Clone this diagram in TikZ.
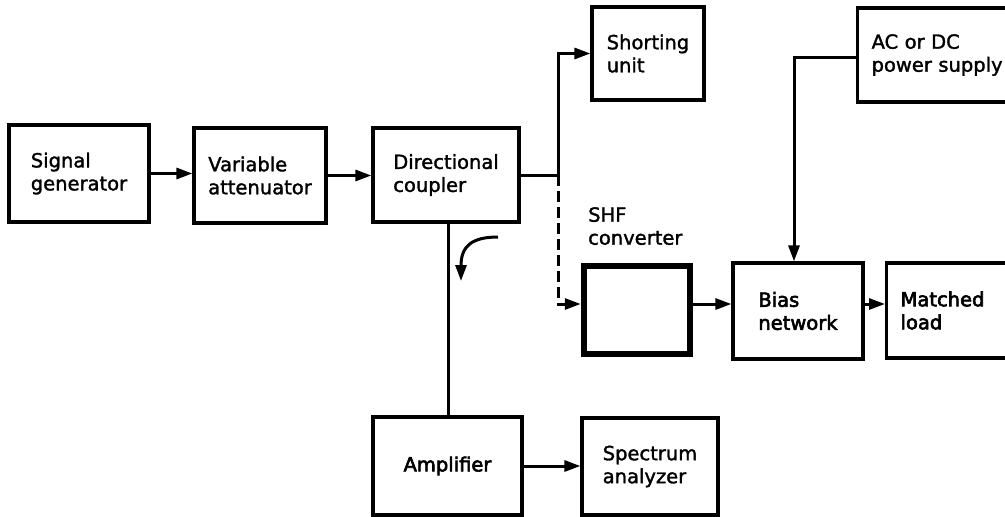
\documentclass[tikz,border=0pt]{standalone}
\usepackage{fontspec}
\setmainfont{DejaVu Sans}[FakeBold=1.6]
\newfontfamily\heavyface{DejaVu Sans}[FakeBold=3]
\usetikzlibrary{arrows.meta,calc}
\begin{document}
\begin{tikzpicture}[x=1pt,y=-1pt,
  every node/.style={font=\fontsize{19.5}{23}\selectfont},
  heavy/.style={font=\fontsize{19.5}{23}\selectfont\heavyface},
  blk/.style={draw,line width=3.2pt,align=left,inner sep=0pt,
    minimum width=#1},
  blk/.default=100,
  arr/.style={line width=3pt,-{Triangle[length=16pt,width=11pt]}},
  wire/.style={line width=3pt}]
\useasboundingbox (0,0) rectangle (1005,517);

% blocks
\node[blk=140,minimum height=97] (sig) at (79,173.5) {Signal\\generator};
\node[blk=132,minimum height=95] (var) at (260,175.5) {Variable\\attenuator};
\node[blk=146,minimum height=94] (dc) at (446,175) {Directional\\coupler};
\node[blk=112,minimum height=93] (short) at (648,53.5) {Shorting\\unit};
\node[draw,line width=6.5pt,minimum width=106,minimum height=88] (shf) at (637,310) {};
\node[blk=130,minimum height=96,heavy] (bias) at (798,311) {Bias\\network};
\node[draw,line width=3.2pt,align=left,text width=107,inner xsep=14pt,
  minimum height=95,anchor=west,heavy] (load) at (885,310.5) {Matched\\load};
\node[draw,line width=3.2pt,align=left,text width=137,inner xsep=14pt,
  minimum height=94,anchor=west] (psu) at (856,55) {AC or DC\\power supply};
\node[blk=149,minimum height=98,heavy] (amp) at (447.5,466) {Amplifier};
\node[blk=136,minimum height=97] (spec) at (650,466.5) {Spectrum\\analyzer};

\node[align=left,anchor=north west,inner sep=0pt] (shflabel) at (588,207) {SHF\\converter};

% main signal path
\draw[arr] (sig.east) -- (sig.east -| var.west);
\draw[arr] (var.east) -- (var.east -| dc.west);
\coordinate (j) at (558,175);
\draw[wire] (dc.east) -- (j);
\draw[arr] (j) |- (short.west);
\draw[arr,dash pattern=on 11pt off 5pt] (j) |- ([yshift=6pt]shf.west);
\draw[arr] ([yshift=6pt]shf.east) -- ([yshift=6pt]shf.east -| bias.west);
\draw[arr] ([yshift=7pt]bias.east) -- ([yshift=7pt]bias.east -| load.west);
\draw[arr] ([yshift=-2pt]psu.west) -| ([xshift=-4pt]bias.north);

% coupled branch
\draw[wire] ([xshift=2pt]dc.south) -- ([xshift=2pt]dc.south |- amp.north);
\draw[arr] (amp.east) -- (amp.east -| spec.west);
\coordinate (cs) at (498,237);
\coordinate (ce) at (461,281);
\draw[arr] (cs) .. controls (472,237) and (461,246) .. (ce);
\end{tikzpicture}
\end{document}
